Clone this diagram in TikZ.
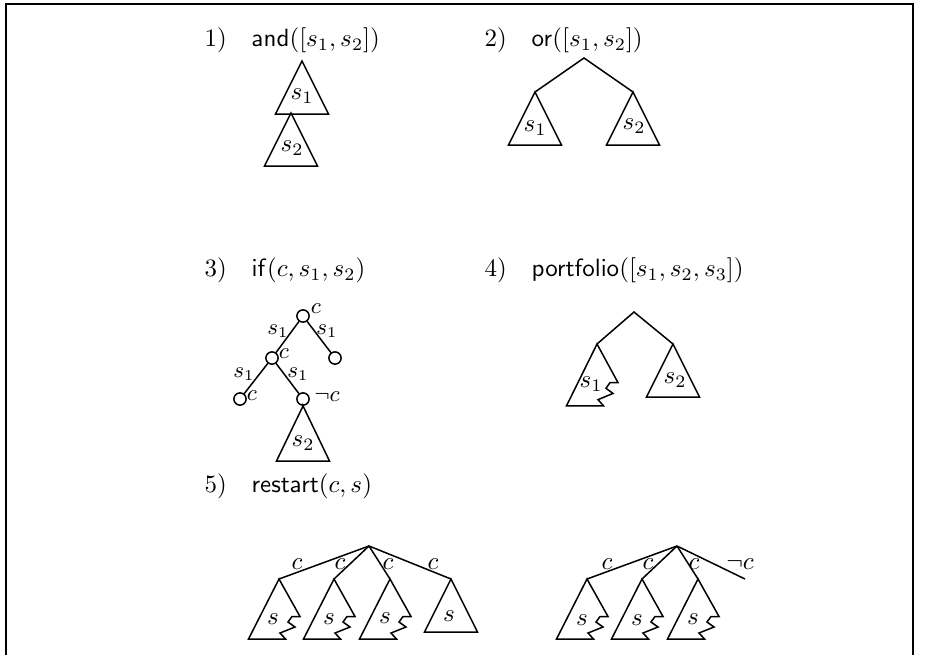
\documentclass[tikz,border=0pt]{standalone}
\usetikzlibrary{positioning}
\begin{document}
\begin{tikzpicture}[x=0.4pt,y=-0.4pt,
  line/.style={semithick},
  tri/.style={semithick, line join=miter},
  cnode/.style={circle, draw, semithick, minimum size=4.9pt, inner sep=0pt},
  lbl/.style={inner sep=0pt, anchor=west},
  elab/.style={inner sep=0pt, font=\small},
  tlab/.style={inner sep=0pt},
  zig/.pic={\draw[tri] (0,0) -- (-30.5,60) -- (6.5,60) -- (1,54) -- (16,48) -- (9,43) -- (13,37.5) -- (21,37.5) -- cycle;},
  ptri/.pic={\draw[tri] (0,0) -- (-26.5,53) -- (26.5,53) -- cycle;}]
\useasboundingbox (0,0) rectangle (933,655);
% frame
\draw[line] (6,655) -- (6,4) -- (913,4) -- (913,655);

% ---------- 1) and
\node[lbl] (l1) at (204,40) {$1)$\quad $\mathsf{and}([s_1,s_2])$};
\coordinate (a1) at (302,61);
\coordinate (a2) at (291,113);
\pic at (a1) {ptri};
\pic at (a2) {ptri};
\node[tlab] (as1) at (302,96) {$s_1$};
\node[tlab] (as2) at (292,148) {$s_2$};

% ---------- 2) or
\node[lbl] (l2) at (484,40) {$2)$\quad $\mathsf{or}([s_1,s_2])$};
\coordinate (o0) at (584,58);
\coordinate (o1) at (535,92);
\coordinate (o2) at (633,92);
\draw[line] (o1) -- (o0) -- (o2);
\pic at (o1) {ptri};
\pic at (o2) {ptri};
\node[tlab] (os1) at (535,128) {$s_1$};
\node[tlab] (os2) at (634,126) {$s_2$};

% ---------- 3) if
\node[lbl] (l3) at (204,270) {$3)$\quad $\mathsf{if}(c,s_1,s_2)$};
\node[cnode] (i0) at (303,316) {};
\node[cnode] (i1) at (272,358) {};
\node[cnode] (i2) at (335,358) {};
\node[cnode] (i3) at (240,399) {};
\node[cnode] (i4) at (303,399) {};
\draw[line] (i0) -- (i1);
\draw[line] (i0) -- (i2);
\draw[line] (i1) -- (i3);
\draw[line] (i1) -- (i4);
\node[elab] (ic0) at (316,309) {$c$};
\node[elab] (ic1) at (284,354) {$c$};
\node[elab] (ic3) at (252,396) {$c$};
\node[elab] (ic4) at (327,397) {$\neg c$};
\node[elab] (ie1) at (278,331) {$s_1$};
\node[elab] (ie2) at (327,331) {$s_1$};
\node[elab] (ie3) at (244,374) {$s_1$};
\node[elab] (ie4) at (298,374) {$s_1$};
\coordinate (ia) at (303,406);
\draw[tri] (i4) -- (ia) -- (276.5,461) -- (329.5,461) -- cycle;
\node[tlab] (is2) at (303,443) {$s_2$};

% ---------- 4) portfolio
\node[lbl] (l4) at (484,270) {$4)$\quad $\mathsf{portfolio}([s_1,s_2,s_3])$};
\coordinate (p0) at (634,312);
\coordinate (p1) at (597,344);
\coordinate (p2) at (673,344);
\draw[line] (p1) -- (p0) -- (p2);
\pic[yscale=1.03] at (p1) {zig};
\pic at (p2) {ptri};
\node[tlab] (ps1) at (591,384) {$s_1$};
\node[tlab] (ps2) at (675,380) {$s_2$};

% ---------- 5) restart
\node[lbl] (l5) at (204,486) {$5)$\quad $\mathsf{restart}(c,s)$};
% tree A
\coordinate (r0) at (369,546);
\coordinate (r1) at (279,579);
\coordinate (r2) at (334,579);
\coordinate (r3) at (390,579);
\coordinate (r4) at (451,579);
\foreach \k in {1,2,3,4} \draw[line] (r0) -- (r\k);
\pic at (r1) {zig};
\pic at (r2) {zig};
\pic at (r3) {zig};
\pic at (r4) {ptri};
\node[tlab] (rc1) at (297,564) {$c$};
\node[tlab] (rc2) at (340,564) {$c$};
\node[tlab] (rc3) at (388,564) {$c$};
\node[tlab] (rc4) at (433,564) {$c$};
\node[tlab] (rs1) at (273,619) {$s$};
\node[tlab] (rs2) at (329,619) {$s$};
\node[tlab] (rs3) at (385,618) {$s$};
\node[tlab] (rs4) at (449,616) {$s$};
% tree B
\coordinate (q0) at (677,546);
\coordinate (q1) at (587,579);
\coordinate (q2) at (642,579);
\coordinate (q3) at (698,579);
\coordinate (q4) at (745,579);
\foreach \k in {1,2,3,4} \draw[line] (q0) -- (q\k);
\pic at (q1) {zig};
\pic at (q2) {zig};
\pic at (q3) {zig};
\node[tlab] (qc1) at (607,564) {$c$};
\node[tlab] (qc2) at (648,564) {$c$};
\node[tlab] (qc3) at (694,564) {$c$};
\node[tlab] (qc4) at (740,564) {$\neg c$};
\node[tlab] (qs1) at (582,620) {$s$};
\node[tlab] (qs2) at (637,620) {$s$};
\node[tlab] (qs3) at (693,619) {$s$};
\end{tikzpicture}
\end{document}
